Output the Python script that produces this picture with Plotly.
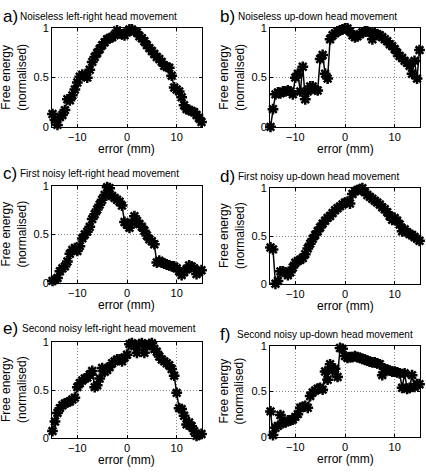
import plotly.graph_objects as go

x_mm = [-15 + 0.5 * i for i in range(61)]

fe_a = [0.13, 0.07, 0.02, 0.10, 0.12, 0.17, 0.28, 0.27, 0.32, 0.38, 0.45, 0.51, 0.53, 0.52, 0.50,
        0.58, 0.66, 0.71, 0.75, 0.79, 0.83, 0.86, 0.89, 0.90, 0.91, 0.93, 0.98, 0.95, 0.94, 0.93,
        0.96, 0.99, 0.99, 0.97, 0.96, 0.92, 0.90, 0.87, 0.83, 0.80, 0.77, 0.74, 0.71, 0.69, 0.66,
        0.62, 0.61, 0.60, 0.52, 0.40, 0.38, 0.36, 0.30, 0.22, 0.18, 0.17, 0.16, 0.15, 0.12, 0.09, 0.05]
fe_b = [0.00, 0.18, 0.33, 0.35, 0.34, 0.36, 0.36, 0.37, 0.36, 0.33, 0.50, 0.54, 0.36, 0.61, 0.28,
        0.36, 0.41, 0.41, 0.38, 0.37, 0.69, 0.73, 0.54, 0.49, 0.89, 0.93, 0.95, 0.97, 0.98, 0.99,
        1.00, 1.00, 0.97, 0.93, 0.91, 0.92, 0.94, 0.96, 0.97, 0.97, 0.96, 0.89, 0.95, 0.94, 0.93,
        0.91, 0.89, 0.87, 0.84, 0.82, 0.79, 0.75, 0.72, 0.70, 0.67, 0.65, 0.62, 0.54, 0.67, 0.49, 0.78]
fe_c = [0.02, 0.03, 0.05, 0.12, 0.15, 0.17, 0.22, 0.30, 0.34, 0.36, 0.33, 0.38, 0.46, 0.50, 0.53,
        0.58, 0.66, 0.71, 0.76, 0.81, 0.86, 0.91, 0.99, 0.98, 0.90, 0.88, 0.86, 0.84, 0.80, 0.63,
        0.60, 0.57, 0.62, 0.69, 0.64, 0.61, 0.58, 0.54, 0.49, 0.45, 0.43, 0.40, 0.21, 0.23, 0.21,
        0.20, 0.19, 0.18, 0.17, 0.17, 0.15, 0.12, 0.08, 0.11, 0.14, 0.18, 0.17, 0.15, 0.09, 0.11, 0.13]
fe_d = [0.38, 0.36, 0.00, 0.03, 0.13, 0.13, 0.12, 0.09, 0.12, 0.17, 0.22, 0.24, 0.25, 0.27, 0.31,
        0.37, 0.42, 0.47, 0.51, 0.55, 0.59, 0.63, 0.66, 0.69, 0.71, 0.74, 0.77, 0.79, 0.81, 0.83,
        0.85, 0.86, 0.84, 0.94, 0.97, 0.98, 0.99, 1.00, 0.96, 0.93, 0.91, 0.89, 0.87, 0.85, 0.83,
        0.80, 0.78, 0.75, 0.71, 0.67, 0.69, 0.66, 0.62, 0.55, 0.57, 0.54, 0.52, 0.51, 0.49, 0.47, 0.45]
fe_e = [0.07, 0.17, 0.26, 0.31, 0.34, 0.36, 0.37, 0.38, 0.40, 0.42, 0.53, 0.57, 0.60, 0.62, 0.63,
        0.66, 0.70, 0.53, 0.55, 0.62, 0.73, 0.69, 0.71, 0.74, 0.78, 0.80, 0.82, 0.82, 0.80, 0.84,
        0.87, 0.98, 0.99, 0.96, 0.89, 0.98, 0.99, 0.89, 0.96, 0.98, 0.99, 0.93, 0.90, 0.85, 0.82,
        0.80, 0.78, 0.76, 0.72, 0.65, 0.47, 0.31, 0.30, 0.23, 0.14, 0.16, 0.12, 0.07, 0.02, 0.03, 0.04]
fe_f = [0.28, 0.02, 0.10, 0.12, 0.24, 0.15, 0.16, 0.18, 0.18, 0.19, 0.22, 0.25, 0.32, 0.33, 0.34,
        0.32, 0.45, 0.49, 0.51, 0.53, 0.54, 0.52, 0.72, 0.63, 0.80, 0.73, 0.75, 0.66, 0.98, 0.97,
        0.89, 0.87, 0.88, 0.88, 0.89, 0.88, 0.87, 0.86, 0.85, 0.84, 0.83, 0.82, 0.82, 0.81, 0.80,
        0.68, 0.75, 0.74, 0.73, 0.72, 0.72, 0.71, 0.70, 0.54, 0.70, 0.53, 0.54, 0.68, 0.55, 0.58, 0.58]

letters = ["a)", "b)", "c)", "d)", "e)", "f)"]
titles = ["Noiseless left-right head movement", "Noiseless up-down head movement",
          "First noisy left-right head movement", "First noisy up-down head movement",
          "Second noisy left-right head movement", "Second noisy up-down head movement"]
series = [fe_a, fe_b, fe_c, fe_d, fe_e, fe_f]
x_ticks = [-10, 0, 10]
y_ticks = [0, 0.5, 1]
y_ticktext = ["0", "0.5", "1"]

W, H = 426, 473
# plot boxes in pixels: (left, right, top, bottom)
boxes = [(52, 202, 23, 124), (270, 420, 23, 124),
         (52, 202, 185, 284), (270, 420, 187, 285),
         (52, 202, 345, 443), (270, 420, 349, 442)]
# title positions: (letter x, text x, y center)
title_pos = [(1, 18, 11), (218, 236, 11), (1, 18, 172), (218, 236, 175), (1, 20, 331), (218, 235, 337)]

FONT = "Liberation Sans, Arial, sans-serif"
fig = go.Figure()
annotations = []
layout = {}
for i, (ys, box) in enumerate(zip(series, boxes)):
    n = "" if i == 0 else str(i + 1)
    fig.add_trace(go.Scatter(
        x=x_mm, y=ys, xaxis="x" + n, yaxis="y" + n, mode="lines+markers",
        line=dict(color="black", width=1.5),
        marker=dict(symbol="asterisk-open", size=9, color="black", line=dict(color="black", width=2.5)),
        showlegend=False, cliponaxis=False))
    l, r, t, b = box
    common = dict(showline=True, linecolor="black", linewidth=1, mirror="ticks", ticks="inside",
                  ticklen=3, tickcolor="black", showgrid=True, gridcolor="#888888", griddash="1px,2px",
                  gridwidth=1, zeroline=False, tickfont=dict(family=FONT, size=11, color="black"))
    layout["xaxis" + n] = dict(domain=[l / W, r / W], range=[-15.1, 15.1], tickvals=x_ticks,
                               ticktext=["\u221210", "0", "10"], anchor="y" + n, **common)
    layout["yaxis" + n] = dict(domain=[1 - b / H, 1 - t / H], range=[0, 1], tickvals=y_ticks,
                               ticktext=y_ticktext, anchor="x" + n, **common)
    lx, tx, ty = title_pos[i]
    annotations.append(dict(x=lx / W, y=1 - ty / H, xref="paper", yref="paper", text=letters[i],
                            showarrow=False, xanchor="left", yanchor="middle",
                            font=dict(family=FONT, size=17, color="black")))
    annotations.append(dict(x=tx / W, y=1 - (ty) / H, xref="paper", yref="paper", text=titles[i],
                            showarrow=False, xanchor="left", yanchor="middle",
                            font=dict(family=FONT, size=10, color="black")))
    annotations.append(dict(x=(l - 38) / W, y=1 - ((t + b) / 2) / H, xref="paper", yref="paper",
                            text="Free energy<br>(normalised)", textangle=-90, showarrow=False,
                            xanchor="center", yanchor="middle",
                            font=dict(family=FONT, size=12, color="black")))
    annotations.append(dict(x=((l + r) / 2) / W, y=1 - (b + 23) / H, xref="paper", yref="paper",
                            text="error (mm)", showarrow=False, xanchor="center", yanchor="middle",
                            font=dict(family=FONT, size=12, color="black")))

fig.update_layout(width=W, height=H, margin=dict(l=0, r=0, t=0, b=0),
                  paper_bgcolor="white", plot_bgcolor="white", annotations=annotations, **layout)
fig.write_html("out.html", config={"displayModeBar": False},
               post_script="document.body.style.margin='0';document.body.style.overflow='hidden';")
